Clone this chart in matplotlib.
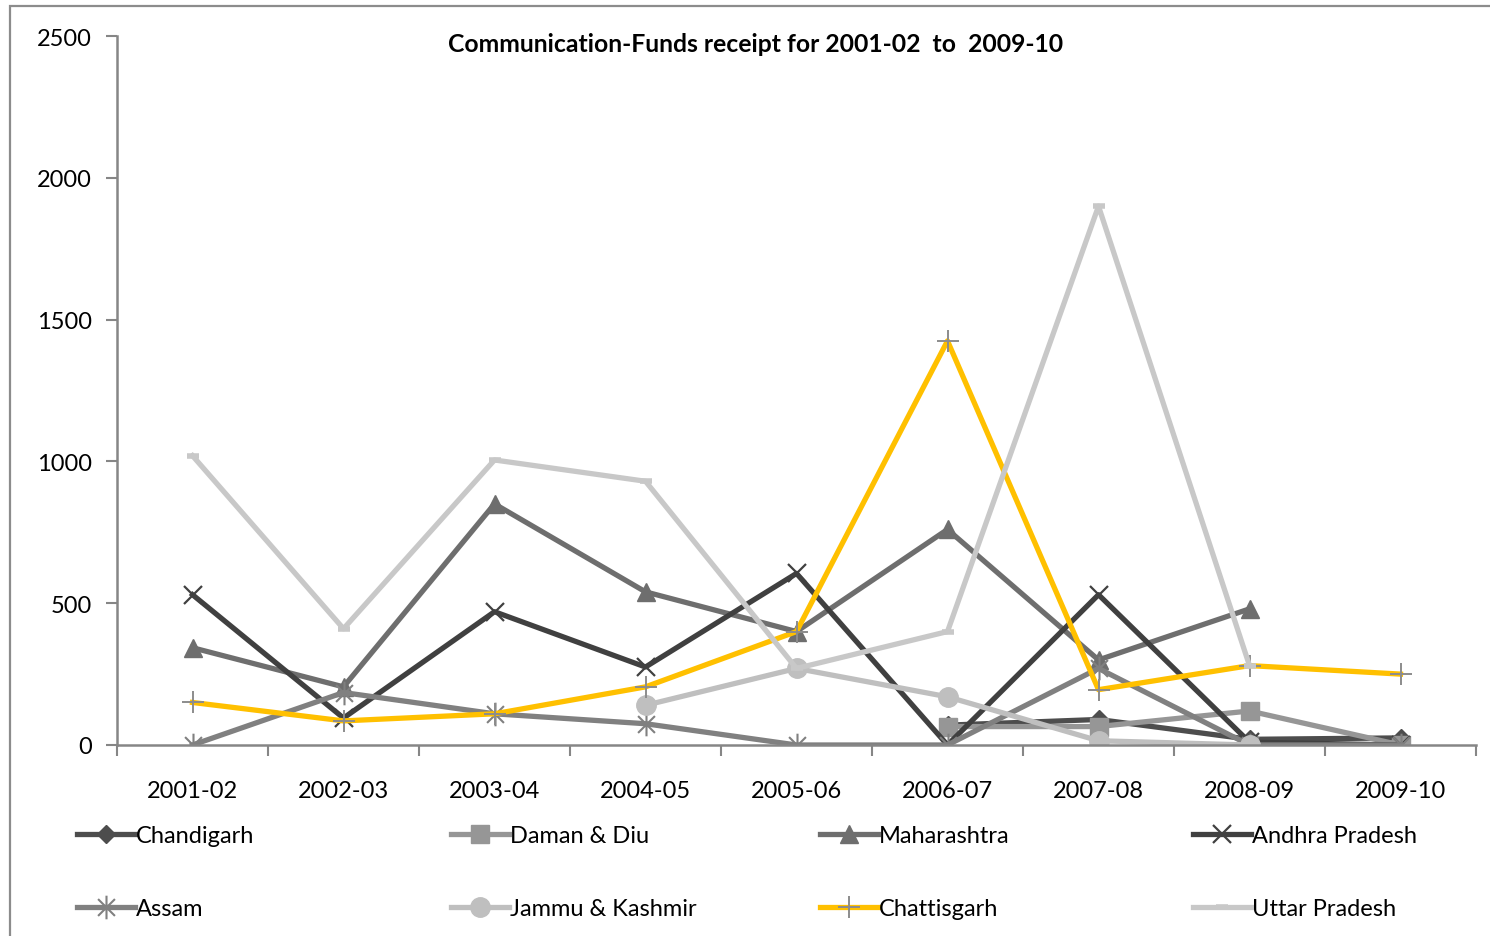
import numpy as np
import matplotlib.pyplot as plt
from matplotlib.path import Path
from matplotlib.patches import Rectangle

plt.rcParams['font.family'] = ['Lato', 'DejaVu Sans']

nan = np.nan
years = ['2001-02', '2002-03', '2003-04', '2004-05', '2005-06',
         '2006-07', '2007-08', '2008-09', '2009-10']

chandigarh = [nan, nan, nan, nan, nan, 70, 90, 20, 25]
daman_diu = [nan, nan, nan, nan, nan, 65, 65, 120, 0]
maharashtra = [343, 205, 850, 540, 400, 760, 300, 480, nan]
andhra = [530, 95, 470, 275, 605, 0, 530, 10, 0]
assam = [0, 185, 110, 75, 0, 0, 270, 0, 0]
jammu_kashmir = [nan, nan, nan, 140, 270, 170, 15, 0, nan]
chattisgarh = [150, 85, 110, 205, 400, 1425, 195, 280, 250]
uttar_pradesh = [1020, 410, 1005, 930, 270, 400, 1900, 280, nan]

# excel-style asterisk: x with a vertical stroke
asterisk = Path([(-1, -1), (1, 1), (-1, 1), (1, -1), (0, -1.4), (0, 1.4)],
                [Path.MOVETO, Path.LINETO, Path.MOVETO, Path.LINETO,
                 Path.MOVETO, Path.LINETO])

series = [
    ('Chandigarh', chandigarh, dict(color='#4d4d4d', marker='D', markersize=9)),
    ('Daman & Diu', daman_diu, dict(color='#969696', marker='s', markersize=13)),
    ('Maharashtra', maharashtra, dict(color='#6e6e6e', marker='^', markersize=13)),
    ('Andhra Pradesh', andhra, dict(color='#404040', marker='x', markersize=13,
                                    markeredgewidth=1.6)),
    ('Assam', assam, dict(color='#808080', marker=asterisk, markersize=17,
                          markeredgewidth=1.5)),
    ('Jammu & Kashmir', jammu_kashmir, dict(color='#bfbfbf', marker='o', markersize=14)),
    ('Chattisgarh', chattisgarh, dict(color='#ffc000', marker='+', markersize=16,
                                      markeredgecolor='#8c8c8c', markeredgewidth=1.4)),
    ('Uttar Pradesh', uttar_pradesh, dict(color='#c8c8c8', marker='_', markersize=9,
                                          markeredgewidth=4)),
]

fig = plt.figure(figsize=(14.9, 9.37), dpi=100)
ax = fig.add_axes([117 / 1490, 1 - 746 / 937, 1359 / 1490, 709 / 937])

x = np.arange(len(years))
handles = []
for name, vals, style in series:
    h, = ax.plot(x, vals, linewidth=3.8, label=name, **style)
    handles.append(h)

ax.set_xlim(-0.5, len(years) - 0.5)
ax.set_ylim(0, 2500)
ax.set_yticks(range(0, 2501, 500))

# category labels sit between the boundary ticks
ax.set_xticks(np.arange(-0.5, len(years), 1))
ax.set_xticklabels([])
ax.set_xticks(x, minor=True)
ax.set_xticklabels(years, minor=True)
ax.tick_params(axis='x', which='major', length=8, width=1.5, color='#868686', direction='out')
ax.tick_params(axis='x', which='minor', length=0, pad=25, labelsize=17)
ax.tick_params(axis='y', length=8, width=1.5, color='#868686', direction='out',
               pad=10, labelsize=17)

for s in ['top', 'right']:
    ax.spines[s].set_visible(False)
for s in ['left', 'bottom']:
    ax.spines[s].set_color('#868686')
    ax.spines[s].set_linewidth(1.8)

fig.text(756 / 1490, 1 - 45 / 937, 'Communication-Funds receipt for 2001-02  to  2009-10',
         ha='center', va='center', fontsize=17.8, fontweight='bold')

# legend laid out as 4 columns x 2 rows
col_x = [77, 451, 820, 1193]
for c, xc in enumerate(col_x):
    fig.legend([handles[c], handles[c + 4]],
               [series[c][0], series[c + 4][0]],
               loc='upper left', bbox_to_anchor=(xc / 1490, 1 - 826 / 937),
               frameon=False, borderpad=0, borderaxespad=0,
               handlelength=2.45, handletextpad=0.05, labelspacing=2.2,
               fontsize=17)

fig.patches.append(Rectangle((10 / 1490, -0.1), 1.2, 1.1 - 7 / 937,
                             transform=fig.transFigure, fill=False,
                             edgecolor='#8c8c8c', linewidth=1.6))

fig.savefig('out.png', dpi=100)
